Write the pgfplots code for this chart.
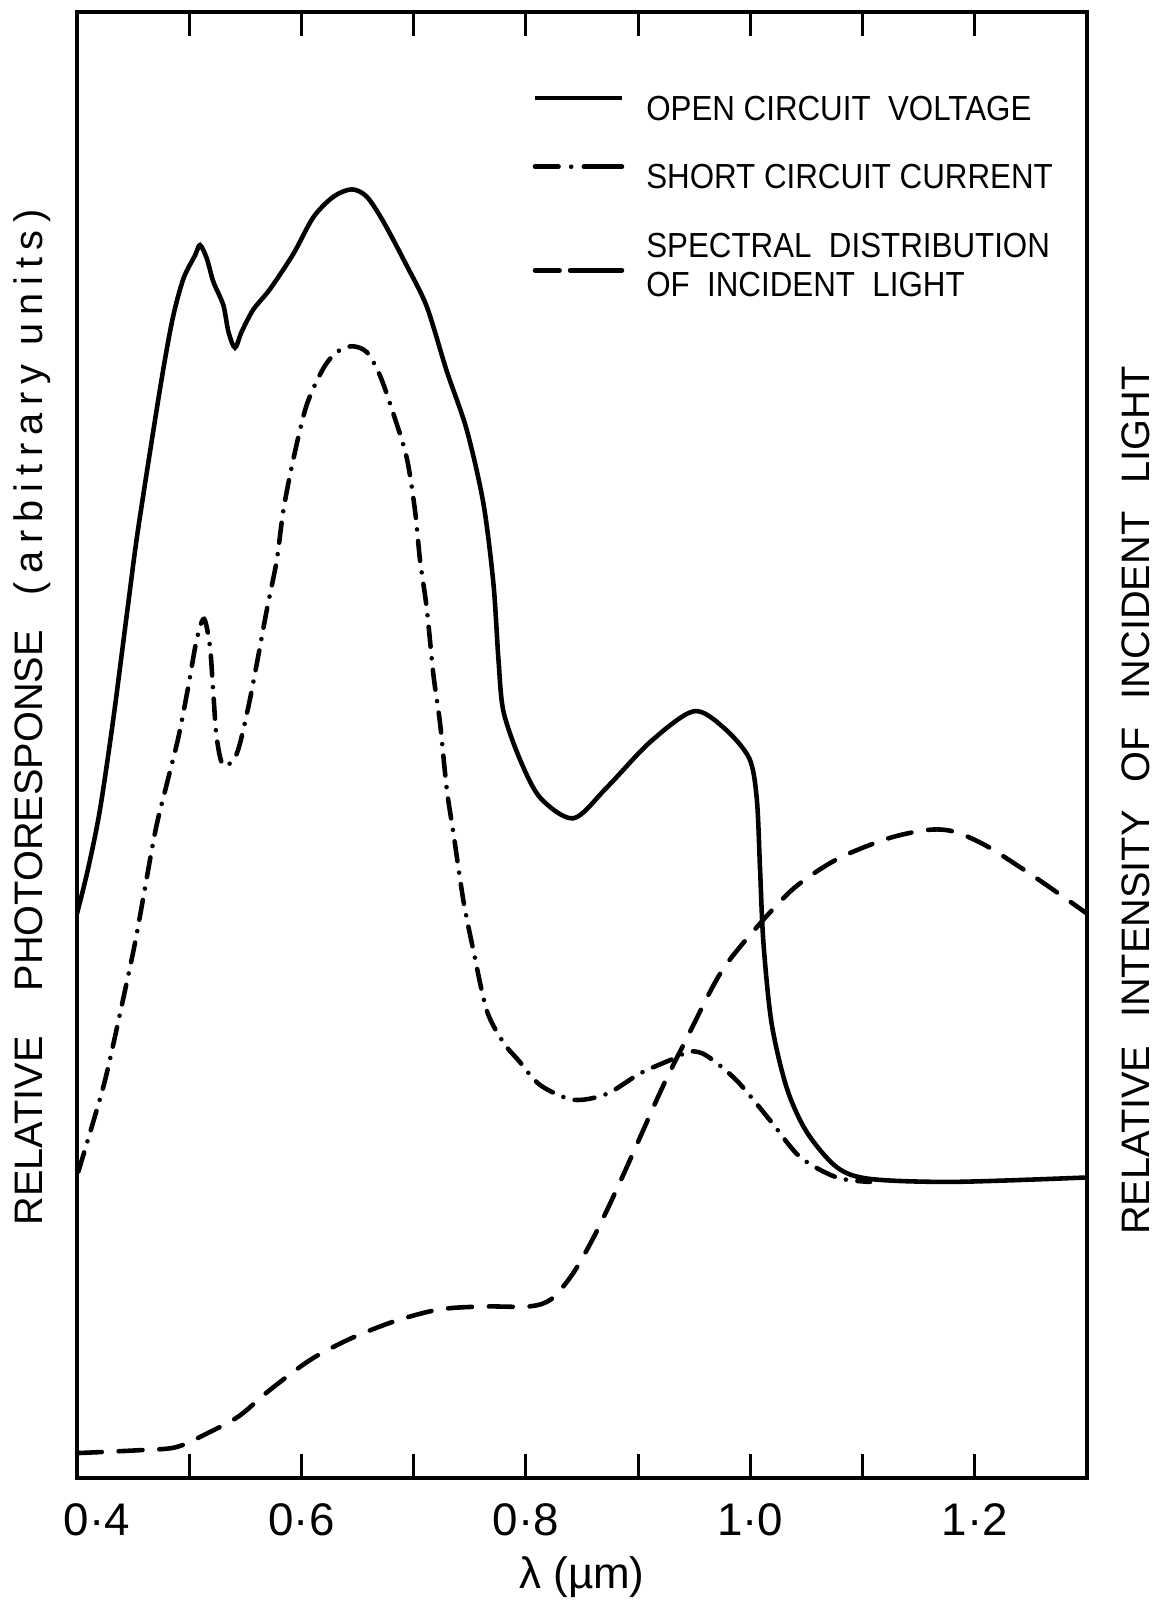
\documentclass[border=0pt]{standalone}
\usepackage{fontspec}
\setmainfont{Liberation Sans}
\newfontfamily\legfont{Liberation Sans}[FakeStretch=0.9]
\usepackage{pgfplots}
\pgfplotsset{compat=1.18}

% open circuit voltage
\pgfplotstableread{
x y
0.400 38.5
0.410 41.6
0.4205 45.6
0.4324 51.8
0.4454 59.5
0.4546 64.8
0.4740 74.3
0.4850 79.0
0.4948 81.8
0.5052 83.4
0.5096 84.1
0.5156 83.2
0.5215 81.6
0.5304 80.0
0.5349 78.2
0.5408 77.1
0.5468 78.2
0.5571 79.7
0.5720 81.1
0.5928 83.5
0.6106 86.0
0.6285 87.4
0.6448 87.9
0.6582 87.4
0.6730 85.7
0.6938 82.7
0.7117 79.9
0.7295 75.5
0.7473 71.5
0.7621 66.5
0.7711 61.0
0.7756 55.8
0.7800 52.3
0.7948 49.0
0.8128 46.4
0.8423 45.0
0.8721 47.1
0.9107 50.2
0.9493 52.3
0.9760 51.2
0.9990 49.1
1.0058 46.3
1.0087 41.5
1.0117 36.5
1.0190 31.0
1.0325 26.6
1.0503 23.6
1.0771 21.2
1.1067 20.4
1.1810 20.2
1.3000 20.5
}\voc

% short circuit current
\pgfplotstableread{
x y
0.4012 20.9
0.4145 24.3
0.4265 27.6
0.4443 33.8
0.4532 37.1
0.4695 44.0
0.4799 47.3
0.4903 50.5
0.4992 54.0
0.5067 57.2
0.5132 58.6
0.5185 56.7
0.5215 53.5
0.5245 50.5
0.5304 48.6
0.5423 49.4
0.5527 52.6
0.5616 56.1
0.5691 59.2
0.5780 62.6
0.5839 66.0
0.5928 69.5
0.6047 73.2
0.6196 75.7
0.6315 76.8
0.6448 77.2
0.6582 76.8
0.6700 75.2
0.6819 72.6
0.6938 69.6
0.7012 66.0
0.7057 62.6
0.7117 59.3
0.7176 54.8
0.7235 51.5
0.7295 47.0
0.7354 44.0
0.7443 39.4
0.7532 36.0
0.7651 31.9
0.7800 29.7
0.7933 28.5
0.8128 26.8
0.8423 25.8
0.8721 26.2
0.9018 27.6
0.9315 28.6
0.9463 29.1
0.9612 28.8
0.9880 27.1
1.0176 24.4
1.0443 21.9
1.0771 20.5
1.1067 20.2
}\isc

% spectral distribution of incident light
\pgfplotstableread{
x y
0.4008 1.7
0.4565 1.9
0.4882 2.1
0.5161 3.05
0.5440 4.2
0.5718 6.0
0.6077 8.05
0.6435 9.5
0.6833 10.7
0.7231 11.5
0.7628 11.7
0.8026 11.7
0.8226 12.2
0.8424 14.0
0.8623 16.7
0.8822 19.9
0.9021 23.3
0.9220 26.7
0.9434 30.0
0.9731 34.4
1.0027 37.3
1.0384 40.2
1.0771 42.2
1.1217 43.6
1.1573 44.2
1.1810 44.1
1.2108 43.1
1.2553 40.9
1.3000 38.5
}\spec

\begin{document}
\begin{tikzpicture}
\useasboundingbox (-0.77,-1.26) rectangle (10.92,14.78);
\begin{axis}[
  scale only axis,
  width=10.10cm, height=14.66cm,
  xmin=0.4, xmax=1.3, ymin=0, ymax=100,
  clip mode=individual,
  axis line style={line width=1.1pt},
  xtick={0.4,0.5,0.6,0.7,0.8,0.9,1.0,1.1,1.2},
  xticklabels={\mbox{\hspace{0.4cm}0·4},,\mbox{0·6},,\mbox{0·8},,\mbox{1·0},,\mbox{1·2}},
  xtick pos=both, tick align=inside, ytick=\empty,
  major tick length=0.24cm,
  every tick/.style={black, line width=0.9pt},
  xticklabel style={font=\fontsize{13}{15}\selectfont, yshift=-0.13cm},
  xlabel={λ (µm)},
  xlabel style={font=\fontsize{12.5}{14}\selectfont, at={(axis description cs:0.5,0)}, anchor=center, yshift=-0.99cm},
  ylabel={RELATIVE\hspace{0.45cm}PHOTORESPONSE\hspace{0.35cm}{\addfontfeatures{LetterSpace=20}(arbitrary units)}},
  ylabel style={font=\fontsize{11.3}{13}\selectfont, at={(axis description cs:-0.0337,0.519)}, anchor=base},
  legend style={at={(rel axis cs:0.4505,0.948)}, anchor=north west, draw=none, fill=none,
    inner sep=0pt, font=\legfont\fontsize{9.9}{11.1}\selectfont, row sep=0.25cm,
    cells={align=left}, /tikz/every odd column/.append style={column sep=0.15cm}},
  legend cell align=left,
  legend image code/.code={\draw[#1] (0cm,0.36em) -- (0.87cm,0.36em);},
]
\addlegendimage{line width=1.3pt}
\addlegendentry{OPEN CIRCUIT\ \ VOLTAGE}
\addlegendimage{line width=1.3pt, line cap=round, dash pattern=on 6.7pt off 3.6pt on 0pt off 3.6pt on 12pt}
\addlegendentry{SHORT CIRCUIT CURRENT}
\addlegendimage{legend image code/.code={\draw[line width=1.3pt, line cap=round, dash pattern=on 7pt off 3pt on 20pt] (0cm,-0.8pt) -- (0.87cm,-0.8pt);}}
\addlegendentry{SPECTRAL\ \ DISTRIBUTION\\OF\ \ INCIDENT\ \ LIGHT}

\addplot[forget plot, line width=1.3pt, smooth, tension=0.5] table {\voc};
\addplot[forget plot, line width=1.3pt, smooth, tension=0.5, line cap=round,
  dash pattern=on 5.7pt off 3.3pt on 0pt off 3.3pt] table {\isc};
\addplot[forget plot, line width=1.3pt, smooth, tension=0.5, line cap=round,
  dash pattern=on 6.8pt off 4.8pt] table {\spec};

\node[rotate=90, anchor=base, font=\fontsize{11.3}{13}\selectfont]
  at (rel axis cs:1.0624,0.462) {RELATIVE\hspace{0.28cm}INTENSITY\hspace{0.28cm}OF\hspace{0.28cm}INCIDENT\hspace{0.28cm}LIGHT};
\end{axis}
\end{tikzpicture}
\end{document}
